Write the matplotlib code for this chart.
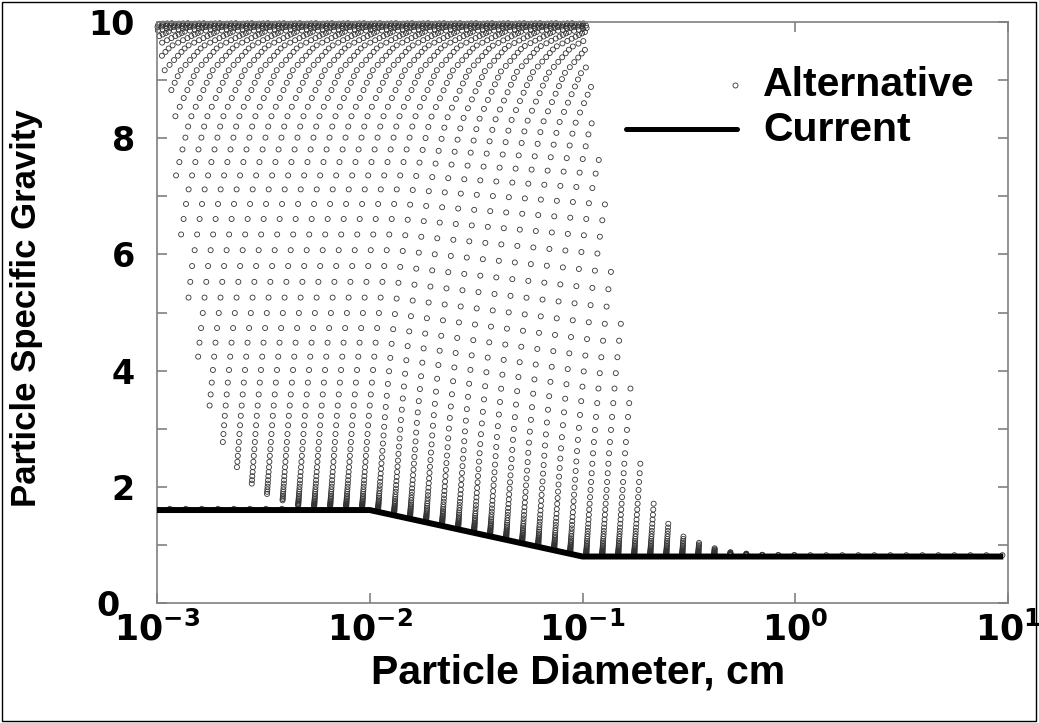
import numpy as np
import matplotlib

matplotlib.use("Agg")
import matplotlib.pyplot as plt
from matplotlib.transforms import ScaledTranslation

plt.rcParams["mathtext.fontset"] = "custom"
plt.rcParams["mathtext.bf"] = "DejaVu Sans:bold"
plt.rcParams["mathtext.rm"] = "DejaVu Sans:bold"

# "Current" criterion (SG vs diameter)
cur_d = [0.001, 0.01, 0.1, 9.2]
cur_sg = [1.6, 1.6, 0.8, 0.8]

# "Alternative": columns of particles at quarter-phi diameters (cm),
# the leftmost ones start off the axis and only their upper parts lean in
col_d = [0.0001015, 0.0001207, 0.0001435, 0.0001706, 0.0002029, 0.0002413,
         0.0002870, 0.0003413, 0.0004059, 0.0004827, 0.0005740, 0.0006826,
         0.0008117, 0.0009653,
         0.001148, 0.001365, 0.001623, 0.001931, 0.002296, 0.002730, 0.003247,
         0.003862, 0.004592, 0.005461, 0.006494, 0.007723, 0.009184, 0.01092,
         0.01299, 0.01544, 0.01837, 0.02184, 0.02598, 0.03089, 0.03673, 0.04368,
         0.05195, 0.06178, 0.07347, 0.08737, 0.1039, 0.1236, 0.1469, 0.1747,
         0.2078, 0.2471, 0.2938, 0.3494, 0.4156, 0.4942, 0.5877, 0.6989, 0.8312,
         0.9885, 1.176, 1.398, 1.662, 1.977, 2.351, 2.796, 3.325, 3.954, 4.702,
         5.591, 6.649, 7.907, 9.403]
# place of the points inside a column: 0 = on the current line, 1 = SG 10
# (bunched at both ends, as read from the middle columns)
col_pos = [0.002522, 0.002872, 0.003269, 0.003721, 0.004236, 0.004821, 0.005486,
           0.006243, 0.007104, 0.008082, 0.009194, 0.01046, 0.01189, 0.01352,
           0.01537, 0.01746, 0.01984, 0.02253, 0.02558, 0.02903, 0.03293,
           0.03733, 0.04229, 0.04788, 0.05417, 0.06123, 0.06914, 0.07799,
           0.08786, 0.09886, 0.11105, 0.12455, 0.13943, 0.15578, 0.17365,
           0.19310, 0.21416, 0.23685, 0.26115, 0.28700, 0.31432, 0.34299,
           0.37285, 0.40372, 0.43536, 0.46754, 0.5, 0.53246, 0.56464, 0.59628,
           0.62715, 0.65701, 0.68568, 0.71300, 0.73885, 0.76315, 0.78584,
           0.80690, 0.82635, 0.84422, 0.86057, 0.87545, 0.88895, 0.90114,
           0.91214, 0.92201, 0.93086, 0.93877, 0.94583, 0.95212, 0.95771,
           0.96267, 0.96707, 0.97097, 0.97442, 0.97747, 0.98016, 0.98254,
           0.98463, 0.98648, 0.98811, 0.98954, 0.990806, 0.991918, 0.992896,
           0.993757, 0.994514, 0.995179, 0.995764, 0.996279, 0.996731,
           0.997128, 0.997478]
# rightward lean of the columns (decades) vs place in column
lean_pos = [0, 0.2, 0.35, 0.5, 0.65, 0.8, 0.9, 0.95, 0.98, 0.99, 0.993, 0.995,
            0.997, 0.998]
lean_dec = [0, 0.034, 0.066, 0.105, 0.160, 0.245, 0.35, 0.455, 0.595, 0.70,
            0.754, 0.805, 0.883, 0.945]
# lower edge of the cloud on the left side
low_d = [0.001, 0.00115, 0.00135, 0.00172, 0.00199, 0.00232, 0.00271, 0.00321,
         0.00382, 0.00454, 0.00534, 0.0065, 0.0066, 10.0]
low_sg = [9.6, 8.85, 5.2, 3.5, 2.82, 2.36, 2.07, 1.88, 1.76, 1.68, 1.64, 1.6,
          0.0, 0.0]
# upper edge of the cloud on the right side
top_d = [0.001, 0.104, 0.109, 0.114, 0.120, 0.128, 0.135, 0.144, 0.152, 0.161,
         0.170, 0.179, 0.187, 0.216, 0.253, 0.301, 0.354, 0.421, 0.501, 0.595,
         0.708, 10.0]
top_sg = [10, 10, 9.2, 8.4, 7.8, 6.95, 6.4, 5.5, 4.9, 4.2, 3.6, 3.1, 2.55,
          1.76, 1.40, 1.17, 1.04, 0.94, 0.88, 0.85, 0.83, 0.81]


def current(d):
    return np.interp(np.log10(d), np.log10(cur_d), cur_sg)


def alternative_points():
    pos = np.array(col_pos)
    xs, ys = [], []
    for d in col_d:
        base = current(d)
        sg = base + pos * (10 - base)
        lx = np.log10(d) + np.interp(pos, lean_pos, lean_dec)
        keep = sg <= np.interp(lx, np.log10(top_d), top_sg) + 1e-9
        keep &= sg >= np.interp(lx, np.log10(low_d), low_sg) - 1e-9
        keep[0] = True
        keep &= (lx >= -3) & (lx <= 1)
        xs.extend(10 ** lx[keep])
        ys.extend(sg[keep])
    return np.array(xs), np.array(ys)


def main():
    fig = plt.figure(figsize=(10.39, 7.23), dpi=100)
    ax = fig.add_axes([157 / 1039, 120 / 723, 851 / 1039, 581 / 723])

    xs, ys = alternative_points()
    ax.scatter(xs, ys, s=13, facecolors="none", edgecolors="#333333",
               linewidths=0.6, clip_on=False, zorder=2)
    ax.plot(cur_d, cur_sg, color="black", lw=4.3, zorder=3)

    ax.set_xscale("log")
    ax.set_xlim(1e-3, 10)
    ax.set_ylim(0, 10)
    ax.set_yticks([0, 2, 4, 6, 8, 10])
    ax.set_yticks([1, 3, 5, 7, 9], minor=True)
    ax.set_yticklabels(["0", "2", "4", "6", "8", "10"])
    ax.set_xticks([1e-3, 1e-2, 1e-1, 1e0, 1e1])
    ax.set_xticks([], minor=True)
    ax.set_xticklabels([r"$\mathbf{10^{-3}}$", r"$\mathbf{10^{-2}}$",
                        r"$\mathbf{10^{-1}}$", r"$\mathbf{10^{0}}$",
                        r"$\mathbf{10^{1}}$"])
    for s in ax.spines.values():
        s.set_color("#808080")
        s.set_linewidth(1.2)
    ax.tick_params(which="both", direction="in", length=7, color="#808080",
                   width=1.2, right=True, top=True)
    ax.tick_params(axis="y", pad=16, labelsize=24)
    ax.tick_params(axis="x", pad=6, labelsize=25)
    for t in ax.get_yticklabels():
        t.set_fontfamily("DejaVu Sans")
        t.set_fontweight("bold")
    zero = ax.get_yticklabels()[0]
    zero.set_transform(zero.get_transform()
                       + ScaledTranslation(-0.15, 0, fig.dpi_scale_trans))

    fig.text(27 / 1039, 1 - 308 / 723, "Particle Specific Gravity",
             rotation=90, ha="center", va="center", fontsize=25,
             fontweight="bold", family="Liberation Sans")
    fig.text(578 / 1039, 1 - 673 / 723, "Particle Diameter, cm",
             ha="center", va="center", fontsize=29.5, fontweight="bold",
             family="Liberation Sans")

    # legend
    ax.plot([0.679], [0.8916], transform=ax.transAxes, marker="o", ms=3.6,
            mfc="none", mec="#333333", mew=0.6, clip_on=False)
    ax.plot([0.551, 0.681], [0.816, 0.816], transform=ax.transAxes,
            color="black", lw=3.6, solid_capstyle="round")
    fig.text(763 / 1039, 1 - 85 / 723, "Alternative", ha="left", va="center",
             fontsize=29.5, fontweight="bold", family="Liberation Sans")
    fig.text(763 / 1039, 1 - 130 / 723, "Current", ha="left", va="center",
             fontsize=29.5, fontweight="bold", family="Liberation Sans")

    fig.add_artist(plt.Rectangle((0.002, 0.003), 0.995, 0.994, fill=False,
                                 edgecolor="black", lw=1.0,
                                 transform=fig.transFigure))
    fig.savefig("out.png", dpi=100)


if __name__ == "__main__":
    main()
